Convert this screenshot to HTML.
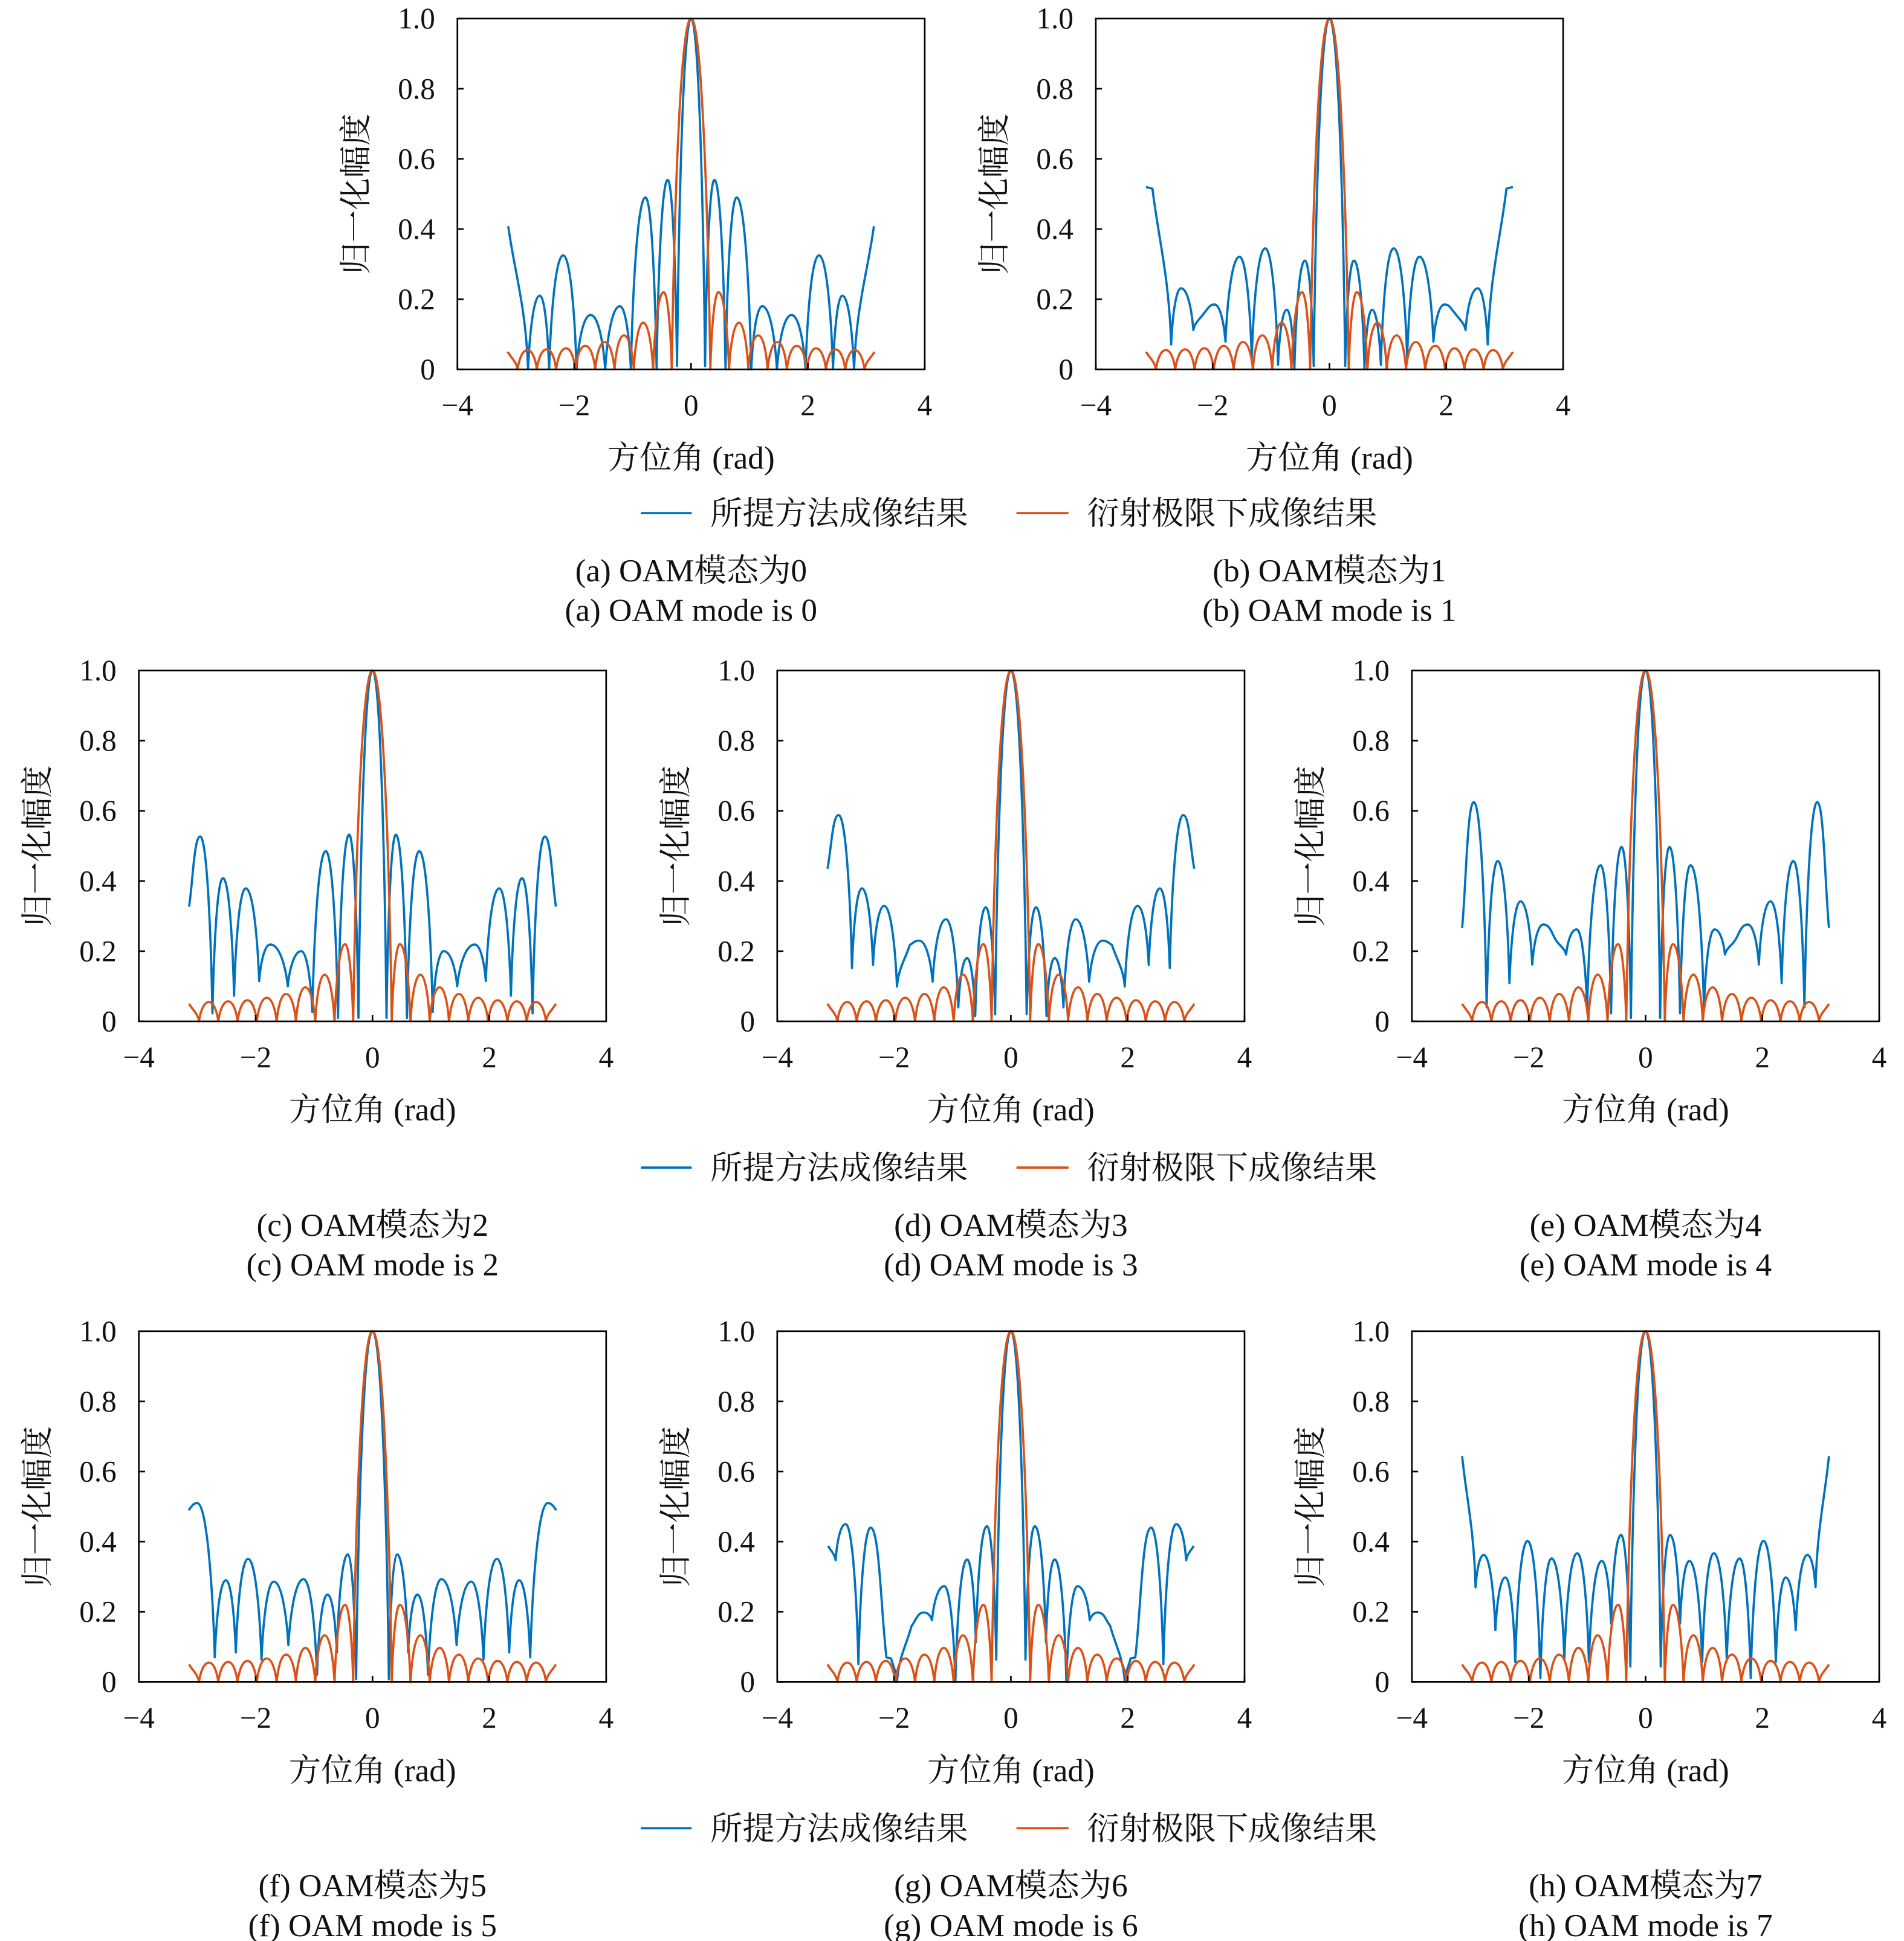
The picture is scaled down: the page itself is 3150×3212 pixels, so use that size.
<!DOCTYPE html>
<html><head><meta charset="utf-8"><title>OAM imaging results</title>
<style>
html,body{margin:0;padding:0;background:#fff;}
svg{display:block;}
text{font-family:"Liberation Serif","Noto Serif CJK SC",serif;fill:#111;}
</style></head>
<body>
<svg id="fig" xmlns="http://www.w3.org/2000/svg" width="3150" height="3212" viewBox="0 0 1536 1566" preserveAspectRatio="none"></svg>
<script>
// ---- shared axis data ----
const xTicks=[-4,-2,0,2,4];
const xTickLabels=['\u22124','\u22122','0','2','4'];
const yTicks=[0,0.2,0.4,0.6,0.8,1.0];
const yTickLabels=['0','0.2','0.4','0.6','0.8','1.0'];
// ---- diffraction-limited result (left half, symmetric about 0) ----
const orangeX=[-3.14,-2.97,-2.80,-2.64,-2.47,-2.31,-2.14,-1.98,-1.81,-1.64,-1.48,-1.31,-1.15,-0.98,-0.82,-0.65,-0.47,-0.33,0];
const orangeY=[0.05,0,0.055,0,0.057,0,0.06,0,0.067,0,0.078,0,0.097,0,0.133,0,0.22,0,1.0];
// ---- proposed method results (left half, symmetric about 0) ----
const blueAX=[-3.13,-2.79,-2.59,-2.43,-2.19,-1.96,-1.72,-1.47,-1.22,-1.03,-0.78,-0.59,-0.40,-0.24,0];
const blueAY=[0.408,0,0.21,0,0.325,0,0.155,0,0.18,0,0.49,0,0.54,0.01,1.0];
const blueBX=[-3.14,-3.03,-2.71,-2.54,-2.33,-2.15,-1.97,-1.78,-1.54,-1.33,-1.10,-0.88,-0.73,-0.60,-0.42,-0.27,0];
const blueBY=[0.52,0.515,0.071,0.231,0.112,0.16,0.185,0.079,0.321,0.033,0.345,0.013,0.17,0,0.31,0.01,1.0];
const blueCX=[-3.14,-2.95,-2.74,-2.56,-2.37,-2.17,-1.94,-1.75,-1.45,-1.22,-1.03,-0.80,-0.59,-0.40,-0.24,0];
const blueCY=[0.327,0.527,0.023,0.408,0.073,0.379,0.115,0.219,0.10,0.20,0.027,0.485,0.01,0.532,0.01,1.0];
const blueDX=[-3.14,-2.95,-2.72,-2.55,-2.36,-2.17,-1.95,-1.73,-1.57,-1.34,-1.11,-0.90,-0.75,-0.61,-0.43,-0.27,0];
const blueDY=[0.435,0.588,0.152,0.379,0.161,0.329,0.099,0.218,0.23,0.113,0.291,0.04,0.18,0.015,0.325,0.02,1.0];
const blueEX=[-3.14,-2.94,-2.72,-2.53,-2.33,-2.14,-1.94,-1.75,-1.52,-1.36,-1.18,-1.00,-0.77,-0.59,-0.41,-0.25,0];
const blueEY=[0.266,0.625,0.04,0.457,0.109,0.342,0.162,0.276,0.228,0.19,0.262,0.036,0.445,0.023,0.497,0.01,1.0];
const blueFX=[-3.15,-3.00,-2.70,-2.51,-2.34,-2.13,-1.90,-1.69,-1.44,-1.18,-0.95,-0.77,-0.61,-0.42,-0.28,0];
const blueFY=[0.49,0.51,0.07,0.29,0.084,0.351,0.064,0.286,0.105,0.293,0.021,0.249,0.084,0.364,0.008,1.0];
const blueGX=[-3.13,-3.00,-2.83,-2.61,-2.40,-2.13,-2.05,-1.95,-1.70,-1.49,-1.35,-1.14,-0.95,-0.75,-0.60,-0.41,-0.25,0];
const blueGY=[0.388,0.347,0.45,0.051,0.44,0.07,0.067,0,0.16,0.198,0.176,0.273,0,0.349,0.113,0.444,0.064,1.0];
const blueHX=[-3.14,-2.91,-2.77,-2.57,-2.40,-2.23,-2.02,-1.80,-1.61,-1.39,-1.17,-0.97,-0.75,-0.59,-0.42,-0.26,0];
const blueHY=[0.644,0.27,0.362,0.148,0.298,0.057,0.402,0.011,0.352,0.064,0.367,0.057,0.345,0.166,0.419,0.044,1.0];

const panels=[
 {key:'a',L:369,T:15,bx:blueAX,by:blueAY,cn:'(a) OAM模态为0',ce:'(a) OAM mode is 0'},
 {key:'b',L:884,T:15,bx:blueBX,by:blueBY,cn:'(b) OAM模态为1',ce:'(b) OAM mode is 1'},
 {key:'c',L:112,T:541,bx:blueCX,by:blueCY,cn:'(c) OAM模态为2',ce:'(c) OAM mode is 2'},
 {key:'d',L:627,T:541,bx:blueDX,by:blueDY,cn:'(d) OAM模态为3',ce:'(d) OAM mode is 3'},
 {key:'e',L:1139,T:541,bx:blueEX,by:blueEY,cn:'(e) OAM模态为4',ce:'(e) OAM mode is 4'},
 {key:'f',L:112,T:1074,bx:blueFX,by:blueFY,cn:'(f) OAM模态为5',ce:'(f) OAM mode is 5'},
 {key:'g',L:627,T:1074,bx:blueGX,by:blueGY,cn:'(g) OAM模态为6',ce:'(g) OAM mode is 6'},
 {key:'h',L:1139,T:1074,bx:blueHX,by:blueHY,cn:'(h) OAM模态为7',ce:'(h) OAM mode is 7'}
];
const legendRows=[414,942,1475];
const W=377,H=283;
const NS='http://www.w3.org/2000/svg';
const svg=document.getElementById('fig');
function mk(tag,attrs,parent){const e=document.createElementNS(NS,tag);for(const k in attrs)e.setAttribute(k,attrs[k]);(parent||svg).appendChild(e);return e;}

function mirror(xs,ys){
  const X=xs.slice(),Y=ys.slice();
  for(let i=xs.length-2;i>=0;i--){X.push(-xs[i]);Y.push(ys[i]);}
  return [X,Y];
}
function curvePath(px,py){
  const n=px.length;const type=[];
  for(let i=0;i<n;i++){
    if(i===0||i===n-1){type.push('o');continue;}
    if(py[i]<py[i-1]&&py[i]<py[i+1])type.push('max');
    else if(py[i]>py[i-1]&&py[i]>py[i+1])type.push('min');
    else type.push('o');
  }
  function handle(i,j){
    const dx=px[j]-px[i],dy=py[j]-py[i];
    if(type[i]==='max')return [px[i]+0.55*dx,py[i]];
    if(type[i]==='min')return [px[i]+0.12*dx,py[i]+0.45*dy];
    return [px[i]+0.33*dx,py[i]+0.33*dy];
  }
  let d='M'+px[0].toFixed(2)+','+py[0].toFixed(2);
  for(let i=0;i<n-1;i++){
    const c1=handle(i,i+1),c2=handle(i+1,i);
    d+=' C'+c1[0].toFixed(2)+','+c1[1].toFixed(2)+' '+c2[0].toFixed(2)+','+c2[1].toFixed(2)+' '+px[i+1].toFixed(2)+','+py[i+1].toFixed(2);
  }
  return d;
}

panels.forEach(p=>{
  const g=mk('g',{});
  
  
  const sx=v=>p.L+(v+4)/8*W;
  const sy=v=>p.T+H-v*H;
  const B=p.T+H,cx=p.L+W/2;
  const cg=mk('g',{},g);
  const [ox,oy]=mirror(orangeX,orangeY);
  const [bx,by]=mirror(p.bx,p.by);
  const bl=mk('path',{d:curvePath(bx.map(sx),by.map(sy)),fill:'none',stroke:'#0072BD','stroke-width':1.8,'stroke-linejoin':'round'},cg);
  
  
  const ol=mk('path',{d:curvePath(ox.map(sx),oy.map(sy)),fill:'none',stroke:'#D95319','stroke-width':1.8,'stroke-linejoin':'round'},cg);
  
  
  const fr=mk('rect',{x:p.L,y:p.T,width:W,height:H,fill:'none',stroke:'#000','stroke-width':1.3},g);
  
  
  xTicks.forEach((v,i)=>{
    mk('line',{x1:sx(v),x2:sx(v),y1:B,y2:B-5,stroke:'#000','stroke-width':1.3},g);
    const t=mk('text',{x:sx(v),y:B+37,'text-anchor':'middle','font-size':24},g);
    t.textContent=xTickLabels[i];
    
    
  });
  yTicks.forEach((v,i)=>{
    mk('line',{x1:p.L,x2:p.L+5,y1:sy(v),y2:sy(v),stroke:'#000','stroke-width':1.3},g);
    const t=mk('text',{x:p.L-18,y:sy(v)+8,'text-anchor':'end','font-size':24},g);
    t.textContent=yTickLabels[i];
    
    
  });
  const xl=mk('text',{x:cx,y:B+80,'text-anchor':'middle','font-size':26},g);
  xl.textContent='方位角 (rad)';
  
  
  const yl=mk('text',{x:0,y:0,'text-anchor':'middle','font-size':26,transform:'translate('+(p.L-73)+','+(p.T+H/2)+') rotate(-90)'},g);
  yl.textContent='归一化幅度';
  
  
  const rowLeg=p.T<100?414:(p.T<600?942:1475);
  const c1=mk('text',{x:cx,y:rowLeg+55,'text-anchor':'middle','font-size':26},g);
  c1.textContent=p.cn;
  
  
  const c2=mk('text',{x:cx,y:rowLeg+87,'text-anchor':'middle','font-size':26},g);
  c2.textContent=p.ce;
  
  
});

legendRows.forEach(y=>{
  const g=mk('g',{});
  
  
  mk('line',{x1:517,x2:558,y1:y,y2:y,stroke:'#0072BD','stroke-width':1.8},g);
  const t1=mk('text',{x:573,y:y+9,'font-size':26},g);
  t1.textContent='所提方法成像结果';
  
  
  mk('line',{x1:820,x2:862,y1:y,y2:y,stroke:'#D95319','stroke-width':1.8},g);
  const t2=mk('text',{x:877,y:y+9,'font-size':26},g);
  t2.textContent='衍射极限下成像结果';
  
  
});
</script>
</body></html>
